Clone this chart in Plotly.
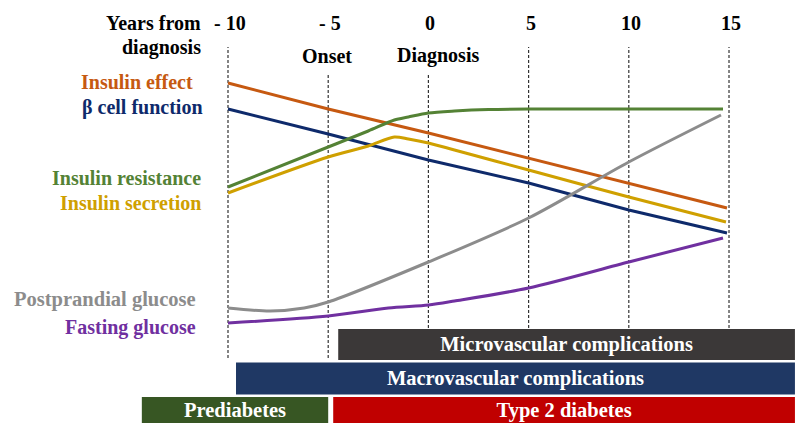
import plotly.graph_objects as go

# ---- data (x in years from diagnosis, y in relative level units) ----
tick_years = [-10, -5, 0, 5, 10, 15]
tick_labels = ["- 10", "- 5", "0", "5", "10", "15"]

effect_x = [-10, -5, 0, 5, 10, 14.9]
effect_y = [340, 314, 290, 265, 240, 215]

beta_x = [-10, -5, 0, 5, 10, 14.9]
beta_y = [314, 289, 263, 240, 213, 190]

resist_x = [-10, -5, -3, -1.7, -1, 0, 1.3, 3, 5, 10, 14.7]
resist_y = [236, 276, 292, 303, 306, 310, 312, 313.5, 314, 314, 314]

secret_x = [-10, -5, -3, -1.7, -1, 0, 1.3, 5, 10, 14.85]
secret_y = [230, 266, 277, 286, 284, 280, 273, 253, 226, 201]

post_x = [-10, -7.9, -6.2, -5, 0, 5, 10, 14.6]
post_y = [115, 112, 115, 121, 161, 205, 261, 308]

fast_x = [-10, -5, -2, 0, 1.3, 5, 10, 14.7]
fast_y = [100, 107, 115, 118, 122, 135, 161, 185]

# vertical guide extents (level units)
guide_top = [376, 349, 349, 376, 376, 376]
guide_bottom = [65, 65, 95, 95, 95, 95]

# stage bars
bar_labels = ["Microvascular complications", "Macrovascular complications",
              "Prediabetes", "Type 2 diabetes"]
bar_start = [-4.5, -9.6, -14.3, -4.75]
bar_end = [18.29, 18.29, -5.0, 18.29]
bar_level_full = [78.5, 44.5, 13, 13]
bar_height = [31, 32, 26, 26]
bar_colors = ["#3B3838", "#1F3864", "#375623", "#C00000"]

FONT = "Liberation Serif"

fig = go.Figure()

# guide lines
for xv, yt, yb in zip(tick_years, guide_top, guide_bottom):
    fig.add_shape(type="line", xref="x", yref="y", x0=xv, x1=xv, y0=yb, y1=yt,
                  line=dict(color="#333333", width=1.2, dash="3px,2px"), layer="below")

series = [
    (effect_x, effect_y, "#C65911", "linear"),
    (beta_x, beta_y, "#0E2A6B", "linear"),
    (resist_x, resist_y, "#548235", "spline"),
    (secret_x, secret_y, "#CFA000", "spline"),
    (post_x, post_y, "#8C8C8C", "spline"),
    (fast_x, fast_y, "#7030A0", "spline"),
]
for xs, ys, col, shp in series:
    fig.add_trace(go.Scatter(x=xs, y=ys, mode="lines",
                             line=dict(color=col, width=3, shape=shp, smoothing=0.8),
                             showlegend=False, hoverinfo="skip"))

for lab, s, e, lv, h, c in zip(bar_labels, bar_start, bar_end, bar_level_full, bar_height, bar_colors):
    fig.add_trace(go.Bar(orientation="h", y=[lv], x=[e - s], base=[s], width=[h],
                         marker=dict(color=c, line=dict(width=0)),
                         text=["<b>" + lab + "</b>"], textposition="inside", insidetextanchor="middle",
                         textfont=dict(family=FONT, size=20.5, color="white"),
                         constraintext="none", showlegend=False, hoverinfo="skip"))

W, H = 795, 423

def ann(text, px, py, color="black", anchor="center", size=20):
    fig.add_annotation(x=px / W, y=1 - py / H, xref="paper", yref="paper",
                       text="<b>" + text + "</b>", showarrow=False, xanchor=anchor, yanchor="middle",
                       font=dict(family=FONT, size=size, color=color))

# top tick labels placed on the data axis
for xv, tl in zip(tick_years, tick_labels):
    fig.add_annotation(x=xv, y=400, xref="x", yref="y", text="<b>" + tl + "</b>", showarrow=False,
                       xanchor="center", yanchor="middle", xshift=2,
                       font=dict(family=FONT, size=20, color="black"))

ann("Years from", 203, 23, anchor="right")
ann("diagnosis", 203, 47, anchor="right")
ann("Onset", 327, 56)
ann("Diagnosis", 438, 56)
ann("Insulin effect", 195, 82, "#C65911", "right")
ann("β cell function", 205, 108, "#0E2A6B", "right")
ann("Insulin resistance", 203, 178, "#548235", "right")
ann("Insulin secretion", 203, 203, "#CFA000", "right")
ann("Postprandial glucose", 198, 299, "#8C8C8C", "right", 20.5)
ann("Fasting glucose", 198, 327, "#7030A0", "right")

fig.update_layout(
    width=W, height=H, margin=dict(l=0, r=0, t=0, b=0),
    paper_bgcolor="white", plot_bgcolor="white", barmode="overlay",
    xaxis=dict(range=[-21.377, 18.293], visible=False, fixedrange=True),
    yaxis=dict(range=[0, 423], visible=False, fixedrange=True),
)

fig.write_html("out.html", config={"displayModeBar": False},
               post_script="document.body.style.margin='0px';document.body.style.padding='0px';")
